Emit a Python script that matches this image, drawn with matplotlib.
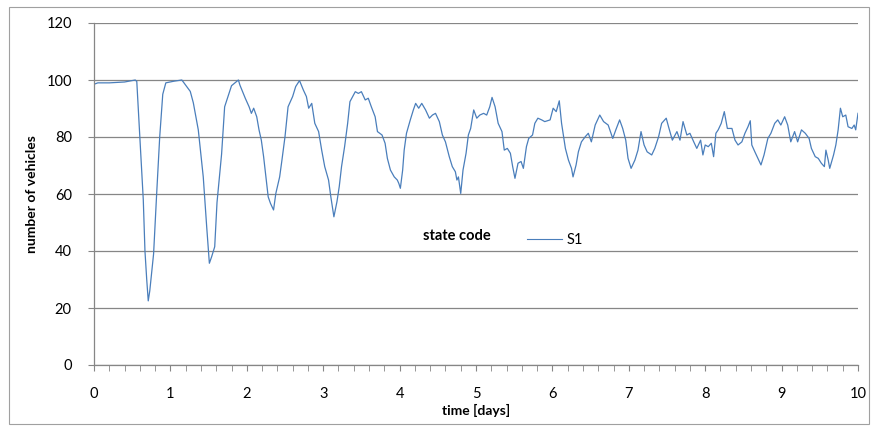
import matplotlib.pyplot as plt
from matplotlib.lines import Line2D
from matplotlib.patches import Rectangle

plt.rcParams['font.family'] = ['Lato', 'DejaVu Sans']

# time [days] and number of vehicles
t = [0.00, 0.05, 0.20, 0.40, 0.54, 0.56, 0.60, 0.645, 0.667, 0.69, 0.71, 0.73,
     0.78, 0.82, 0.86, 0.90, 0.94, 1.05, 1.15, 1.26, 1.30, 1.365, 1.43, 1.475,
     1.51, 1.54, 1.58, 1.61, 1.67, 1.71, 1.80, 1.89,
     1.91, 1.98, 2.03, 2.06, 2.09, 2.13, 2.16, 2.19, 2.22, 2.25, 2.28, 2.31,
     2.35, 2.38, 2.43, 2.46, 2.50, 2.54, 2.60, 2.64, 2.69, 2.74, 2.78, 2.81,
     2.85, 2.89, 2.94, 2.98, 3.02, 3.07, 3.10, 3.14, 3.18, 3.21, 3.24, 3.28,
     3.32, 3.35, 3.42, 3.46, 3.50, 3.55, 3.59, 3.63, 3.68, 3.71, 3.77, 3.81,
     3.84, 3.88, 3.93, 3.97,
     3.99, 4.01, 4.04, 4.06, 4.09, 4.14, 4.18, 4.21, 4.25, 4.29, 4.34, 4.39,
     4.43, 4.47, 4.52, 4.56, 4.60, 4.65, 4.69, 4.73, 4.75, 4.77, 4.80, 4.83,
     4.87, 4.90, 4.93, 4.97, 5.01, 5.05, 5.10, 5.14, 5.18, 5.21, 5.25, 5.29,
     5.34, 5.37, 5.41, 5.45, 5.48, 5.51, 5.55, 5.59, 5.62, 5.66, 5.69, 5.74,
     5.77, 5.81, 5.86, 5.90, 5.97, 6.01,
     6.05, 6.09, 6.12, 6.17, 6.21, 6.25, 6.27, 6.31, 6.34, 6.38, 6.43, 6.47,
     6.51, 6.56, 6.62, 6.67, 6.73, 6.79, 6.83, 6.88, 6.92, 6.96, 6.99, 7.03,
     7.08, 7.12, 7.16, 7.20, 7.24, 7.30, 7.34, 7.39, 7.43, 7.49, 7.52, 7.57,
     7.63, 7.67, 7.71, 7.76, 7.80, 7.85, 7.89, 7.94, 7.97,
     8.00, 8.04, 8.08, 8.11, 8.14, 8.17, 8.21, 8.25, 8.29, 8.35, 8.39, 8.43,
     8.48, 8.52, 8.56, 8.59, 8.61, 8.65, 8.70, 8.73, 8.77, 8.82, 8.86, 8.91,
     8.95, 8.99, 9.04, 9.08, 9.12, 9.17, 9.21, 9.26, 9.31, 9.36, 9.39, 9.44,
     9.48, 9.52, 9.56, 9.58, 9.61, 9.63, 9.68, 9.71, 9.74, 9.77, 9.80, 9.84,
     9.87, 9.92, 9.95, 9.97, 10.00]
vehicles = [98.5, 99.0, 99.0, 99.3, 100.0, 99.5, 80.0, 58.0, 40.0, 30.0, 22.5, 26.0,
            39.0, 60.0, 80.0, 95.0, 99.0, 99.6, 100.0, 96.0, 92.0, 82.5, 66.0, 48.5,
            35.7, 38.0, 41.5, 57.0, 74.0, 90.6, 98.0, 100.0,
            98.2, 93.6, 90.6, 88.3, 90.1, 87.1, 82.5, 78.9, 73.1, 66.0, 59.0, 56.7,
            54.4, 60.2, 66.0, 71.9, 80.1, 90.6, 94.2, 97.7, 99.8, 96.5, 94.2, 90.1,
            91.8, 84.8, 81.9, 75.4, 69.6, 64.9, 59.0, 52.0, 57.3, 62.6, 69.6, 76.6,
            84.8, 92.4, 95.9, 95.3, 95.9, 93.0, 93.6, 90.6, 87.1, 81.9, 80.7, 77.8,
            72.5, 68.4, 66.0, 64.9,
            63.7, 62.0, 68.4, 75.4, 81.3, 86.0, 89.5, 91.8, 90.1, 91.8, 89.5, 86.6,
            87.7, 88.3, 85.4, 80.7, 78.3, 73.1, 69.6, 67.8, 64.9, 66.0, 60.2, 68.4,
            74.3, 80.7, 83.0, 89.5, 86.6, 87.7, 88.3, 87.7, 90.6, 93.9, 90.6, 84.8,
            81.9, 75.4, 76.0, 74.3, 69.6, 65.5, 70.8, 71.4, 69.0, 76.6, 79.5, 80.7,
            84.8, 86.6, 86.0, 85.4, 86.0, 90.1,
            88.9, 92.7, 84.8, 76.0, 71.9, 69.0, 66.0, 70.2, 74.8, 78.3, 80.1, 81.3,
            78.3, 84.2, 87.7, 85.4, 84.2, 79.5, 82.5, 86.0, 83.0, 78.9, 72.5, 69.0,
            71.9, 75.4, 81.9, 77.2, 74.8, 73.7, 76.0, 80.1, 84.8, 86.6, 83.6, 78.9,
            81.9, 78.9, 85.4, 80.7, 81.3, 78.3, 76.0, 78.9, 73.7,
            77.2, 76.6, 77.8, 73.1, 81.3, 82.5, 84.8, 88.9, 83.0, 83.0, 78.9, 77.2,
            78.3, 81.3, 83.6, 85.7, 77.2, 74.8, 71.9, 70.2, 73.7, 79.5, 81.3, 84.8,
            86.0, 84.2, 87.1, 84.2, 78.3, 81.9, 78.3, 82.5, 81.3, 79.5, 76.0, 73.1,
            72.5, 70.8, 69.6, 75.4, 71.9, 69.0, 73.7, 77.2, 82.5, 90.1, 87.1, 87.7,
            83.6, 83.0, 84.2, 82.5, 88.3]

x_ticks = list(range(0, 11))
y_ticks = list(range(0, 121, 20))
grey = '#868686'

fig = plt.figure(figsize=(8.74, 4.26), dpi=100)
fig.patches.append(Rectangle((9 / 874, 2 / 426), 860 / 874, 417 / 426, transform=fig.transFigure,
                             fill=False, edgecolor='#a0a0a0', linewidth=0.8))
ax = fig.add_axes([94 / 874, 1 - 365 / 426, 764 / 874, 342 / 426])

ax.plot(t, vehicles, color='#4a7ebb', linewidth=0.9)

ax.set_xlim(0, 10)
ax.set_ylim(0, 120)
ax.set_xticks(x_ticks)
ax.set_xticks([i * 0.2 for i in range(51)], minor=True)
ax.set_yticks(y_ticks)
ax.grid(axis='y', color=grey, linewidth=0.9)
ax.set_axisbelow(True)
for s in ['top', 'right']:
    ax.spines[s].set_visible(False)
for s in ['left', 'bottom']:
    ax.spines[s].set_color(grey)
    ax.spines[s].set_linewidth(0.9)
ax.tick_params(axis='x', which='both', direction='out', length=4, color=grey, labelsize=10.5, pad=12)
ax.tick_params(axis='y', direction='out', length=4, color=grey, labelsize=10.5, pad=12)

ax.set_xlabel('time [days]', fontsize=10, fontweight='bold', labelpad=2)
ax.set_ylabel('number of vehicles', fontsize=10, fontweight='bold', labelpad=6)

ax.text(0.475, 0.378, 'state code', transform=ax.transAxes, fontsize=10.5, fontweight='bold',
        ha='center', va='center')
ax.legend([Line2D([], [], color='#4a7ebb', linewidth=0.8)], ['S1'], loc='center left',
          bbox_to_anchor=(0.55, 0.365), frameon=False, fontsize=10.5, handlelength=2.4,
          handletextpad=0.3)

fig.savefig('out.png', dpi=100)
